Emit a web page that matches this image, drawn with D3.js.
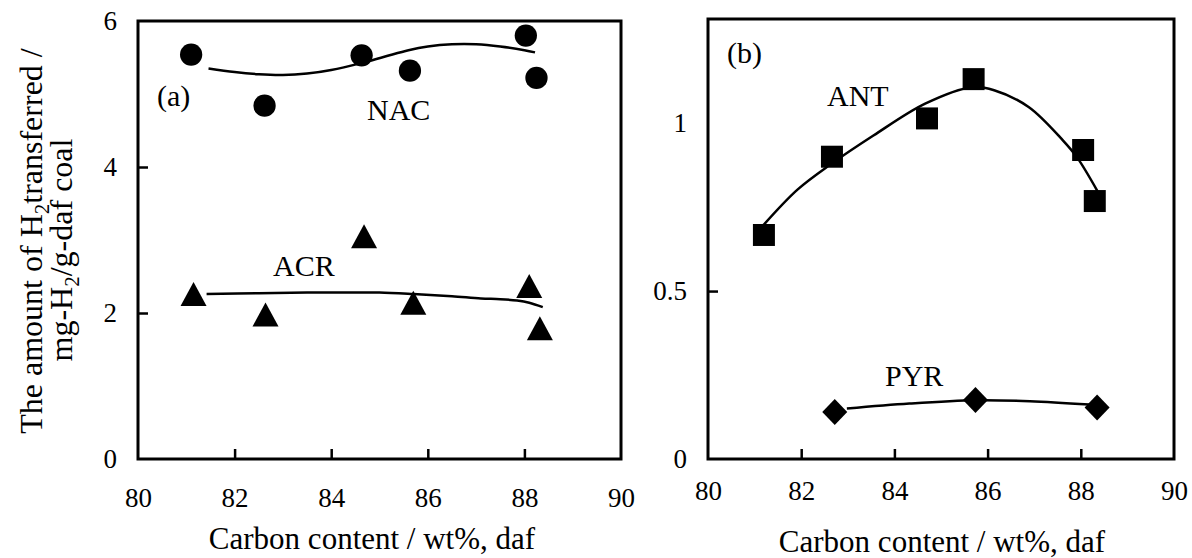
<!DOCTYPE html>
<html><head><meta charset="utf-8">
<script src="https://cdn.jsdelivr.net/npm/d3@7"></script>
<style>
body{margin:0;background:#fff}
svg text{font-family:"Liberation Serif","Times New Roman",serif;fill:#000}
</style></head><body>
<svg id="c" width="1192" height="558"></svg>
<script>
// ---- data ----
const xTicks = [80, 82, 84, 86, 88, 90];
const yTicksA = [0, 2, 4, 6];
const yTicksB = [0, 0.5, 1];

const nacX = [81.10, 82.62, 84.63, 85.63, 88.03, 88.25];
const nacY = [5.54, 4.84, 5.53, 5.32, 5.80, 5.22];
const acrX = [81.15, 82.64, 84.68, 85.70, 88.10, 88.32];
const acrY = [2.26, 1.98, 3.05, 2.14, 2.37, 1.79];
const antX = [81.20, 82.66, 84.70, 85.70, 88.05, 88.30];
const antY = [0.667, 0.900, 1.014, 1.131, 0.920, 0.768];
const pyrX = [82.72, 85.74, 88.35];
const pyrY = [0.140, 0.176, 0.153];

// fitted curves
const nacFitX = [81.46, 82.0, 82.5, 83.0, 83.5, 84.0, 84.6, 85.1, 85.6, 86.0, 86.5, 87.0, 87.5, 88.0, 88.22];
const nacFitY = [5.35, 5.30, 5.27, 5.26, 5.28, 5.33, 5.42, 5.51, 5.60, 5.65, 5.68, 5.68, 5.65, 5.60, 5.57];
const acrFitX = [81.42, 82.5, 83.5, 84.5, 85.0, 85.7, 86.5, 87.1, 87.5, 87.85, 88.1, 88.38];
const acrFitY = [2.26, 2.27, 2.28, 2.28, 2.28, 2.26, 2.23, 2.20, 2.19, 2.17, 2.14, 2.08];
const antFitX = [81.18, 81.92, 82.64, 83.55, 84.66, 85.67, 86.14, 86.88, 87.62, 87.92, 88.36];
const antFitY = [0.695, 0.802, 0.878, 0.963, 1.058, 1.107, 1.098, 1.048, 0.948, 0.898, 0.797];
const pyrFitX = [82.98, 84.32, 85.75, 86.91, 88.18];
const pyrFitY = [0.150, 0.165, 0.175, 0.172, 0.162];

const xTitle = "Carbon content / wt%, daf";

// ---- drawing ----
const svg = d3.select("#c");
const xA = d3.scaleLinear().domain([80, 90]).range([138, 621]);
const yA = d3.scaleLinear().domain([0, 6]).range([459, 21]);
const xB = d3.scaleLinear().domain([80, 90]).range([708, 1174]);
const yB = d3.scaleLinear().domain([0, 1.31]).range([459, 19]);

function shapePath(type) {
  if (type === "circle") return d3.symbol(d3.symbolCircle, 390)();
  if (type === "square") return d3.symbol(d3.symbolSquare, 22 * 22)();
  if (type === "triangle") { const w = 26, h = 24; return `M0,${-h/2}L${w/2},${h/2}L${-w/2},${h/2}Z`; }
  if (type === "diamond") { const w = 25, h = 26; return `M0,${-h/2}L${w/2},0L0,${h/2}L${-w/2},0Z`; }
}

function panel(x, y, yTicks, fmt, xLabPad, xTitleX, xTitleY) {
  const g = svg.append("g");
  // inward ticks
  g.append("g").attr("transform", `translate(0,${y(0)})`)
    .call(d3.axisBottom(x).tickValues(xTicks.slice(1, -1)).tickSize(-10).tickFormat(""))
    .call(a => a.select(".domain").remove())
    .selectAll("line").attr("stroke", "#000").attr("stroke-width", 2.5);
  g.append("g").attr("transform", `translate(${x(80)},0)`)
    .call(d3.axisLeft(y).tickValues(yTicks.slice(1, -1)).tickSize(-10).tickFormat(""))
    .call(a => a.select(".domain").remove())
    .selectAll("line").attr("stroke", "#000").attr("stroke-width", 2.5);
  // labels
  g.append("g").attr("transform", `translate(0,${y(0)})`)
    .call(d3.axisBottom(x).tickValues(xTicks).tickSize(0).tickPadding(xLabPad).tickFormat(d3.format("d")))
    .call(a => a.select(".domain").remove())
    .attr("font-size", 27).attr("font-family", null);
  g.append("g").attr("transform", `translate(${x(80)},0)`)
    .call(d3.axisLeft(y).tickValues(yTicks).tickSize(0).tickPadding(21).tickFormat(fmt))
    .call(a => a.select(".domain").remove())
    .attr("font-size", 27).attr("font-family", null);
  // frame
  g.append("rect").attr("x", x(80)).attr("y", y.range()[1])
    .attr("width", x(90) - x(80)).attr("height", y(0) - y.range()[1])
    .attr("fill", "none").attr("stroke", "#000").attr("stroke-width", 3);
  // x title
  g.append("text").attr("x", xTitleX).attr("y", xTitleY)
    .attr("text-anchor", "middle").attr("font-size", 31).text(xTitle);
  return g;
}

const gA = panel(xA, yA, yTicksA, d3.format("d"), 29, 372, 549);
const gB = panel(xB, yB, yTicksB, d => d === 0.5 ? "0.5" : d3.format("d")(d), 22, 942, 552);

function series(g, x, y, xs, ys, fx, fy, type) {
  const line = d3.line().x(d => x(d[0])).y(d => y(d[1])).curve(d3.curveCatmullRom.alpha(0.5));
  g.append("path").datum(fx.map((v, i) => [v, fy[i]]))
    .attr("d", line).attr("fill", "none").attr("stroke", "#000").attr("stroke-width", 2.5);
  g.selectAll(null).data(xs.map((v, i) => [v, ys[i]])).join("path")
    .attr("d", shapePath(type))
    .attr("transform", d => `translate(${x(d[0])},${y(d[1])})`)
    .attr("fill", "#000");
}
series(gA, xA, yA, nacX, nacY, nacFitX, nacFitY, "circle");
series(gA, xA, yA, acrX, acrY, acrFitX, acrFitY, "triangle");
series(gB, xB, yB, antX, antY, antFitX, antFitY, "square");
series(gB, xB, yB, pyrX, pyrY, pyrFitX, pyrFitY, "diamond");

// in-plot labels
function label(g, txt, px, py) {
  g.append("text").attr("x", px).attr("y", py).attr("font-size", 30).text(txt);
}
label(gA, "(a)", 157, 106);
label(gA, "NAC", 367, 120);
label(gA, "ACR", 273, 276);
label(gB, "(b)", 727, 63);
label(gB, "ANT", 827, 106);
label(gB, "PYR", 885, 386);

// y title (two lines with subscripts)
const yt = svg.append("g").attr("font-size", 32);
const t1 = yt.append("text").attr("text-anchor", "middle")
  .attr("transform", "translate(42,241) rotate(-90)");
t1.append("tspan").text("The amount of H");
t1.append("tspan").attr("font-size", 21).attr("dy", 7).text("2");
t1.append("tspan").attr("dy", -7).text("transferred /");
const t2 = yt.append("text").attr("text-anchor", "middle")
  .attr("transform", "translate(72,250) rotate(-90)");
t2.append("tspan").text("mg-H");
t2.append("tspan").attr("font-size", 21).attr("dy", 7).text("2");
t2.append("tspan").attr("dy", -7).text("/g-daf coal");
</script>
</body></html>
